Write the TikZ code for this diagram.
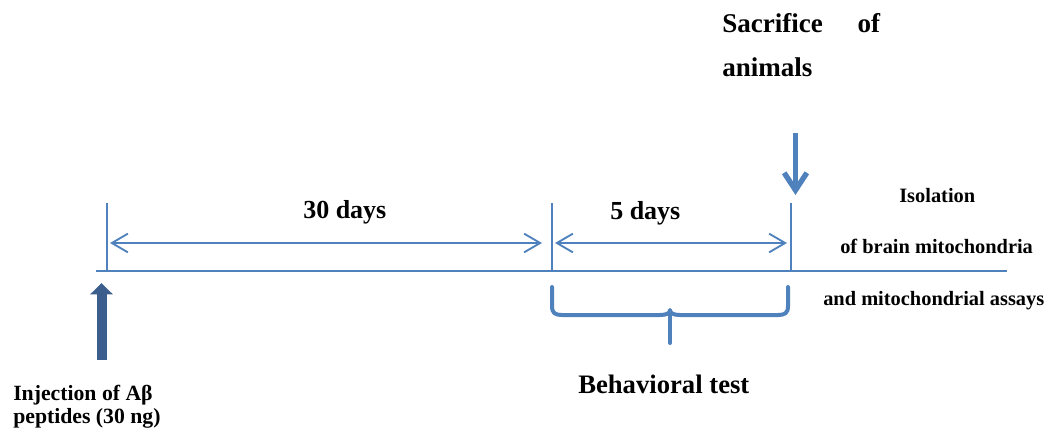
\documentclass[tikz,border=0pt]{standalone}
\usepackage{fontspec}
\setmainfont{Liberation Serif}
\usetikzlibrary{arrows.meta}
\definecolor{lineblue}{HTML}{4F81BD}
\definecolor{darkblue}{HTML}{3B5E8C}
\begin{document}
\begin{tikzpicture}[x=0.75pt,y=-0.75pt,
  thin line/.style={draw=lineblue,line width=1.4pt},
  dim arrow/.style={thin line,{Straight Barb[length=12pt,width=14pt]}-{Straight Barb[length=12pt,width=14pt]}},
  lbl/.style={inner sep=0pt,anchor=base west,font=\bfseries},
  big/.style={lbl,font=\bfseries\fontsize{19.5}{23}\selectfont},
  mid/.style={lbl,font=\bfseries\fontsize{16.3}{20}\selectfont},
  small/.style={lbl,font=\bfseries\fontsize{15.3}{18}\selectfont},
  brace line/.style={draw=lineblue,line width=3pt,line cap=round,line join=round}]
\useasboundingbox (0,0) rectangle (1058,429);
% timeline
\coordinate (tl0) at (96,271);
\coordinate (tl1) at (1007,271);
\draw[thin line] (tl0) -- (tl1);
% ticks
\coordinate (t1b) at (107,271); \coordinate (t1t) at (107,203);
\coordinate (t2b) at (552,271); \coordinate (t2t) at (552,203);
\coordinate (t3b) at (791,271); \coordinate (t3t) at (791,203);
\draw[thin line] (t1b) -- (t1t);
\draw[thin line] (t2b) -- (t2t);
\draw[thin line] (t3b) -- (t3t);
% dimension arrows
\coordinate (a1l) at (110,243); \coordinate (a1r) at (542,243);
\coordinate (a2l) at (555,243); \coordinate (a2r) at (787,243);
\draw[dim arrow] (a1l) -- (a1r);
\draw[dim arrow] (a2l) -- (a2r);
% labels
\node[big] (d30) at (303,218) {30 days};
\node[big] (d5) at (610,219) {5 days};
\node[lbl,font=\bfseries\fontsize{20.3}{24}\selectfont] (sac) at (722,32) {Sacrifice\hspace{26pt}of};
\node[lbl,font=\bfseries\fontsize{20.3}{24}\selectfont] (ani) at (722,76) {animals};
\node[small] (iso) at (899,202) {Isolation};
\node[small] (brain) at (840,253) {of brain mitochondria};
\node[small] (assay) at (823,305) {and mitochondrial assays};
\node[lbl,font=\bfseries\fontsize{20}{24}\selectfont] (beh) at (578,393) {Behavioral test};
\node[mid] (inj1) at (13,400) {Injection of Aβ};
\node[mid] (inj2) at (13,423) {peptides (30 ng)};
% sacrifice arrow
\coordinate (s0) at (795.5,133);
\coordinate (s1) at (795.5,195);
\draw[draw=lineblue,line width=4pt,-{Straight Barb[length=13pt,width=17pt]}] (s0) -- (s1);
% injection arrow
\coordinate (i0) at (101.5,360);
\coordinate (i1) at (101.5,283);
\draw[draw=darkblue,line width=7.5pt,-{Triangle[length=8.5pt,width=16.5pt]}] (i0) -- (i1);
% brace
\coordinate (b1) at (552,287); \coordinate (b2) at (788,287);
\coordinate (bc) at (670,343);
\draw[brace line]
  (b1) -- (552,306) .. controls (552,313) and (555,315) .. (562,315)
  -- (660,315) .. controls (667,315) and (670,313) .. (670,310)
  .. controls (670,313) and (673,315) .. (680,315)
  -- (778,315) .. controls (785,315) and (788,313) .. (788,306) -- (b2);
\draw[brace line] (670,312) -- (bc);
\end{tikzpicture}
\end{document}
